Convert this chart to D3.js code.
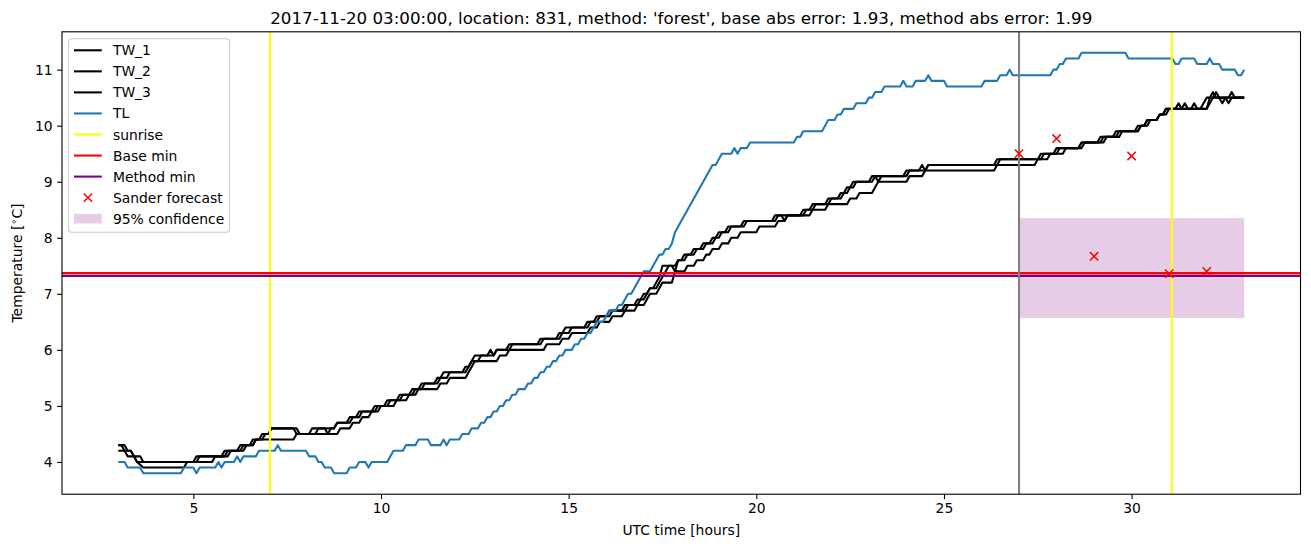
<!DOCTYPE html>
<html><head><meta charset="utf-8">
<script src="https://cdn.jsdelivr.net/npm/d3@7"></script>
<style>body{margin:0;background:#fff} text{font-family:"DejaVu Sans",sans-serif;fill:#000}</style>
</head><body><svg id="c" width="1311" height="547"></svg>
<script>
const TITLE = "2017-11-20 03:00:00, location: 831, method: 'forest', base abs error: 1.93, method abs error: 1.99";
const xTicks = [5, 10, 15, 20, 25, 30];
const yTicks = [4, 5, 6, 7, 8, 9, 10, 11];
// [minutes since 00:00 UTC on the day, temperature °C] (vertices of each recorded series)
const TW_1 = [[180,4.3],[185,4.3],[190,4.2],[200,4.2],[205,4.1],[215,4.1],[220,4.0],[300,4.0],[305,4.1],[345,4.1],[350,4.2],[370,4.2],[375,4.3],[390,4.3],[395,4.4],[405,4.4],[410,4.5],[420,4.5],[425,4.6],[460,4.6],[465,4.5],[485,4.5],[490,4.6],[510,4.6],[515,4.5],[520,4.6],[525,4.6],[530,4.7],[545,4.7],[550,4.8],[560,4.8],[565,4.9],[585,4.9],[590,5.0],[605,5.0],[610,5.1],[625,5.1],[630,5.2],[645,5.2],[650,5.3],[660,5.3],[665,5.4],[685,5.4],[690,5.5],[695,5.5],[700,5.6],[730,5.6],[735,5.7],[740,5.7],[745,5.8],[750,5.9],[770,5.9],[775,6.0],[780,5.9],[785,6.0],[800,6.0],[805,6.1],[850,6.1],[855,6.2],[880,6.2],[885,6.3],[890,6.3],[895,6.4],[925,6.4],[930,6.5],[940,6.5],[945,6.6],[960,6.6],[965,6.7],[985,6.7],[990,6.8],[1005,6.8],[1010,6.9],[1015,6.9],[1020,7.0],[1025,7.0],[1030,7.1],[1035,7.1],[1040,7.2],[1045,7.3],[1050,7.5],[1065,7.5],[1070,7.4],[1075,7.6],[1080,7.6],[1085,7.7],[1095,7.7],[1100,7.8],[1110,7.8],[1115,7.9],[1125,7.9],[1130,8.0],[1135,8.0],[1140,8.1],[1150,8.1],[1155,8.2],[1175,8.2],[1180,8.3],[1225,8.3],[1230,8.4],[1240,8.4],[1245,8.3],[1250,8.4],[1270,8.4],[1275,8.5],[1285,8.5],[1290,8.6],[1310,8.6],[1315,8.7],[1330,8.7],[1335,8.8],[1340,8.8],[1345,8.9],[1350,8.9],[1355,9.0],[1380,9.0],[1385,9.1],[1390,9.1],[1395,9.0],[1400,9.1],[1435,9.1],[1440,9.2],[1460,9.2],[1465,9.3],[1470,9.2],[1475,9.3],[1580,9.3],[1585,9.4],[1650,9.4],[1655,9.5],[1675,9.5],[1680,9.6],[1715,9.6],[1720,9.7],[1745,9.7],[1750,9.8],[1770,9.8],[1775,9.9],[1810,9.9],[1815,10.0],[1820,10.0],[1825,10.1],[1840,10.1],[1845,10.2],[1850,10.2],[1855,10.3],[1870,10.3],[1875,10.4],[1880,10.3],[1895,10.3],[1900,10.4],[1905,10.3],[1920,10.3],[1925,10.5],[1930,10.6],[1935,10.5],[1955,10.5],[1960,10.6],[1965,10.5],[1980,10.5]];
const TW_2 = [[180,4.3],[190,4.3],[195,4.2],[200,4.2],[205,4.1],[210,4.0],[305,4.0],[310,4.1],[350,4.1],[355,4.2],[375,4.2],[380,4.3],[395,4.3],[400,4.4],[410,4.4],[415,4.5],[420,4.5],[425,4.6],[465,4.6],[470,4.5],[495,4.5],[500,4.6],[525,4.6],[530,4.7],[550,4.7],[555,4.8],[565,4.8],[570,4.9],[590,4.9],[595,5.0],[610,5.0],[615,5.1],[630,5.1],[635,5.2],[650,5.2],[655,5.3],[665,5.3],[670,5.4],[690,5.4],[695,5.5],[705,5.5],[710,5.6],[735,5.6],[740,5.7],[745,5.8],[755,5.8],[760,5.9],[780,5.9],[785,6.0],[805,6.0],[810,6.1],[855,6.1],[860,6.2],[885,6.2],[890,6.3],[900,6.3],[905,6.4],[930,6.4],[935,6.5],[945,6.5],[950,6.6],[965,6.6],[970,6.7],[990,6.7],[995,6.8],[1010,6.8],[1015,6.9],[1020,6.9],[1025,7.0],[1030,7.1],[1040,7.1],[1045,7.2],[1050,7.3],[1055,7.4],[1060,7.5],[1070,7.5],[1075,7.6],[1085,7.6],[1090,7.7],[1100,7.7],[1105,7.8],[1115,7.8],[1120,7.9],[1130,7.9],[1135,8.0],[1140,8.0],[1145,8.1],[1155,8.1],[1160,8.2],[1180,8.2],[1185,8.3],[1230,8.3],[1235,8.4],[1275,8.4],[1280,8.5],[1290,8.5],[1295,8.6],[1315,8.6],[1320,8.7],[1335,8.7],[1340,8.8],[1345,8.8],[1350,8.9],[1355,8.9],[1360,9.0],[1385,9.0],[1390,9.1],[1440,9.1],[1445,9.2],[1470,9.2],[1475,9.3],[1585,9.3],[1590,9.4],[1655,9.4],[1660,9.5],[1680,9.5],[1685,9.6],[1715,9.6],[1720,9.7],[1750,9.7],[1755,9.8],[1775,9.8],[1780,9.9],[1810,9.9],[1815,10.0],[1825,10.0],[1830,10.1],[1840,10.1],[1845,10.2],[1855,10.2],[1860,10.3],[1880,10.3],[1885,10.4],[1890,10.3],[1910,10.3],[1915,10.4],[1920,10.5],[1930,10.5],[1935,10.6],[1940,10.5],[1950,10.5],[1955,10.4],[1960,10.5],[1980,10.5]];
const TW_3 = [[180,4.2],[190,4.2],[195,4.1],[205,4.1],[210,4.0],[220,3.9],[260,3.9],[265,3.9],[285,3.9],[290,4.0],[330,4.0],[335,4.1],[355,4.1],[360,4.2],[380,4.2],[385,4.3],[395,4.3],[400,4.4],[460,4.4],[465,4.5],[530,4.5],[535,4.6],[550,4.6],[555,4.7],[565,4.7],[570,4.8],[580,4.8],[585,4.9],[595,4.9],[600,5.0],[620,5.0],[625,5.1],[640,5.1],[645,5.2],[655,5.2],[660,5.3],[690,5.3],[695,5.4],[705,5.4],[710,5.5],[735,5.5],[740,5.6],[745,5.7],[750,5.8],[785,5.8],[790,5.9],[800,5.9],[805,6.0],[860,6.0],[865,6.1],[885,6.1],[890,6.2],[900,6.2],[905,6.3],[930,6.3],[935,6.4],[945,6.4],[950,6.5],[965,6.5],[970,6.6],[985,6.6],[990,6.7],[1005,6.7],[1010,6.8],[1020,6.8],[1025,6.9],[1030,7.0],[1040,7.0],[1045,7.1],[1050,7.2],[1065,7.2],[1070,7.4],[1085,7.4],[1090,7.5],[1100,7.5],[1105,7.6],[1115,7.6],[1120,7.7],[1125,7.7],[1130,7.8],[1140,7.8],[1145,7.9],[1155,7.9],[1160,8.0],[1170,8.0],[1175,8.1],[1200,8.1],[1205,8.2],[1230,8.2],[1235,8.3],[1245,8.3],[1250,8.4],[1285,8.4],[1290,8.5],[1310,8.5],[1315,8.6],[1345,8.6],[1350,8.7],[1360,8.7],[1365,8.8],[1385,8.8],[1390,8.9],[1395,9.0],[1440,9.0],[1445,9.1],[1465,9.1],[1470,9.2],[1580,9.2],[1585,9.3],[1645,9.3],[1650,9.4],[1665,9.4],[1670,9.5],[1690,9.5],[1695,9.6],[1720,9.6],[1725,9.7],[1755,9.7],[1760,9.8],[1780,9.8],[1785,9.9],[1805,9.9],[1810,10.0],[1820,10.0],[1825,10.1],[1840,10.1],[1845,10.2],[1850,10.2],[1855,10.3],[1920,10.3],[1925,10.4],[1930,10.5],[1940,10.5],[1945,10.4],[1950,10.5],[1980,10.5]];
const TL = [[180,4.0],[190,4.0],[195,3.9],[215,3.9],[220,3.8],[280,3.8],[285,3.9],[300,3.9],[305,3.8],[310,3.9],[335,3.9],[340,4.0],[345,3.9],[350,4.0],[365,4.0],[370,4.1],[375,4.0],[380,4.1],[400,4.1],[405,4.2],[430,4.2],[435,4.3],[440,4.2],[480,4.2],[485,4.1],[495,4.1],[500,4.0],[505,4.0],[510,3.9],[520,3.9],[525,3.8],[545,3.8],[550,3.9],[560,3.9],[565,4.0],[575,4.0],[580,3.9],[585,4.0],[610,4.0],[615,4.1],[620,4.2],[635,4.2],[640,4.3],[655,4.3],[660,4.4],[675,4.4],[680,4.3],[695,4.3],[700,4.4],[705,4.3],[710,4.4],[725,4.4],[730,4.5],[740,4.5],[745,4.6],[755,4.6],[760,4.7],[765,4.7],[770,4.8],[775,4.8],[780,4.9],[785,4.9],[790,5.0],[795,5.0],[800,5.1],[805,5.1],[810,5.2],[815,5.2],[820,5.3],[830,5.3],[835,5.4],[840,5.4],[845,5.5],[850,5.5],[855,5.6],[860,5.6],[865,5.7],[870,5.7],[875,5.8],[880,5.8],[885,5.9],[890,5.9],[895,6.0],[905,6.0],[910,6.1],[915,6.1],[920,6.2],[925,6.2],[930,6.3],[935,6.3],[940,6.4],[945,6.5],[955,6.5],[960,6.6],[965,6.7],[975,6.7],[980,6.8],[985,6.8],[990,6.9],[995,7.0],[1000,7.0],[1005,7.1],[1010,7.2],[1015,7.3],[1020,7.4],[1030,7.4],[1035,7.5],[1040,7.6],[1045,7.7],[1050,7.7],[1055,7.8],[1060,7.8],[1065,7.9],[1070,8.1],[1130,9.3],[1135,9.3],[1140,9.4],[1145,9.5],[1160,9.5],[1165,9.6],[1170,9.5],[1175,9.6],[1185,9.6],[1190,9.7],[1260,9.7],[1265,9.8],[1270,9.8],[1275,9.9],[1305,9.9],[1310,10.0],[1315,10.1],[1325,10.1],[1330,10.2],[1335,10.2],[1340,10.3],[1355,10.3],[1360,10.4],[1375,10.4],[1380,10.5],[1385,10.5],[1390,10.6],[1400,10.6],[1405,10.7],[1430,10.7],[1435,10.8],[1440,10.7],[1450,10.7],[1455,10.8],[1470,10.8],[1475,10.9],[1480,10.8],[1500,10.8],[1505,10.7],[1560,10.7],[1565,10.8],[1585,10.8],[1590,10.9],[1600,10.9],[1605,11.0],[1610,10.9],[1670,10.9],[1675,11.0],[1680,11.0],[1685,11.1],[1690,11.1],[1695,11.2],[1715,11.2],[1720,11.3],[1790,11.3],[1795,11.2],[1865,11.2],[1870,11.1],[1875,11.1],[1880,11.2],[1900,11.2],[1905,11.1],[1920,11.1],[1925,11.2],[1930,11.1],[1940,11.1],[1945,11.0],[1965,11.0],[1970,10.9],[1975,10.9],[1980,11.0]];
const sunriseHours = [7.04, 31.07];
const baseMin = 7.37;
const methodMin = 7.32;
const forecastStartHour = 27;
const sanderHours = [27, 28, 29, 30, 31, 32];
const sanderTemps = [9.50, 9.77, 7.67, 9.46, 7.36, 7.40];
const confHours = [27, 33];
const confLow = 6.57, confHigh = 8.35;
const legendLabels = ["TW_1", "TW_2", "TW_3", "TL", "sunrise", "Base min", "Method min", "Sander forecast", "95% confidence"];

const L = 62, R = 1300.5, T = 31.8, B = 494.2;
const svg = d3.select("#c");
const x = d3.scaleLinear().domain([1.5, 34.5]).range([L, R]);
const y = d3.scaleLinear().domain([3.425, 11.675]).range([B, T]);
const LW = 2.08;

svg.append("defs").append("clipPath").attr("id", "clip")
  .append("rect").attr("x", L).attr("y", T).attr("width", R - L).attr("height", B - T);
const g = svg.append("g").attr("clip-path", "url(#clip)");

// confidence band
g.append("rect")
  .attr("x", x(confHours[0])).attr("width", x(confHours[1]) - x(confHours[0]))
  .attr("y", y(confHigh)).attr("height", y(confLow) - y(confHigh))
  .attr("fill", "purple").attr("fill-opacity", 0.2);

const line = d3.line().x(d => x(d[0] / 60)).y(d => y(d[1]));
[TW_1, TW_2, TW_3].forEach(s => g.append("path").attr("d", line(s)).attr("fill", "none")
  .attr("stroke", "#000").attr("stroke-width", LW).attr("stroke-linejoin", "round"));
g.append("path").attr("d", line(TL)).attr("fill", "none").attr("stroke", "#1f77b4")
  .attr("stroke-width", LW).attr("stroke-linejoin", "round");

sunriseHours.forEach(h => g.append("line").attr("x1", x(h)).attr("x2", x(h)).attr("y1", T).attr("y2", B)
  .attr("stroke", "yellow").attr("stroke-width", LW));
g.append("line").attr("x1", L).attr("x2", R).attr("y1", y(baseMin)).attr("y2", y(baseMin))
  .attr("stroke", "red").attr("stroke-width", LW);
g.append("line").attr("x1", L).attr("x2", R).attr("y1", y(methodMin)).attr("y2", y(methodMin))
  .attr("stroke", "purple").attr("stroke-width", LW);
g.append("line").attr("x1", x(forecastStartHour)).attr("x2", x(forecastStartHour)).attr("y1", T).attr("y2", B)
  .attr("stroke", "gray").attr("stroke-width", LW);

function cross(sel, cx, cy) {
  const s = 4.17;
  sel.append("path").attr("d", `M${cx - s},${cy - s}L${cx + s},${cy + s}M${cx - s},${cy + s}L${cx + s},${cy - s}`)
    .attr("stroke", "red").attr("stroke-width", 1.5).attr("fill", "none");
}
sanderHours.forEach((h, i) => cross(g, x(h), y(sanderTemps[i])));

// axes
const xAxis = d3.axisBottom(x).tickValues(xTicks).tickSize(4.86).tickPadding(4.5).tickFormat(d3.format("d"));
const yAxis = d3.axisLeft(y).tickValues(yTicks).tickSize(4.86).tickPadding(4.5).tickFormat(d3.format("d"));
const gx = svg.append("g").attr("transform", `translate(0,${B})`).call(xAxis);
const gy = svg.append("g").attr("transform", `translate(${L},0)`).call(yAxis);
[gx, gy].forEach(a => {
  a.select(".domain").remove();
  a.selectAll("line").attr("stroke", "#000").attr("stroke-width", 1.1);
  a.selectAll("text").attr("font-size", "13.9px").attr("font-family", "DejaVu Sans").attr("fill", "#000");
});
svg.append("rect").attr("x", L).attr("y", T).attr("width", R - L).attr("height", B - T)
  .attr("fill", "none").attr("stroke", "#000").attr("stroke-width", 1.1);

// labels
svg.append("text").attr("x", (L + R) / 2).attr("y", 24).attr("text-anchor", "middle")
  .attr("font-size", "16.7px").text(TITLE);
svg.append("text").attr("x", (L + R) / 2).attr("y", 535).attr("text-anchor", "middle")
  .attr("font-size", "13.9px").text("UTC time [hours]");
const yl = svg.append("text").attr("transform", `translate(22,${(T + B) / 2}) rotate(-90)`)
  .attr("text-anchor", "middle").attr("font-size", "13.9px");
yl.append("tspan").text("Temperature [");
yl.append("tspan").attr("font-size", "9.7px").attr("dy", -5).text("∘");
yl.append("tspan").attr("dy", 5).text("C]");

// legend
const lg = svg.append("g");
lg.append("rect").attr("x", 68.5).attr("y", 38.8).attr("width", 161).attr("height", 193.4).attr("rx", 3)
  .attr("fill", "#fff").attr("fill-opacity", 0.8).attr("stroke", "#cccccc").attr("stroke-width", 1.1);
const legendStyles = [
  {type: "line", color: "#000"}, {type: "line", color: "#000"}, {type: "line", color: "#000"},
  {type: "line", color: "#1f77b4"}, {type: "line", color: "yellow"}, {type: "line", color: "red"},
  {type: "line", color: "purple"}, {type: "cross", color: "red"}, {type: "patch", color: "purple"}
];
legendLabels.forEach((lab, i) => {
  const cy = 50.3 + i * 21.05;
  const st = legendStyles[i];
  if (st.type === "line") {
    lg.append("line").attr("x1", 74).attr("x2", 101.8).attr("y1", cy).attr("y2", cy)
      .attr("stroke", st.color).attr("stroke-width", LW);
  } else if (st.type === "cross") {
    cross(lg, 87.9, cy);
  } else {
    lg.append("rect").attr("x", 74).attr("y", cy - 4.9).attr("width", 27.8).attr("height", 9.7)
      .attr("fill", st.color).attr("fill-opacity", 0.2);
  }
  lg.append("text").attr("x", 112.9).attr("y", cy + 5).attr("font-size", "13.9px").text(lab);
});
</script></body></html>
